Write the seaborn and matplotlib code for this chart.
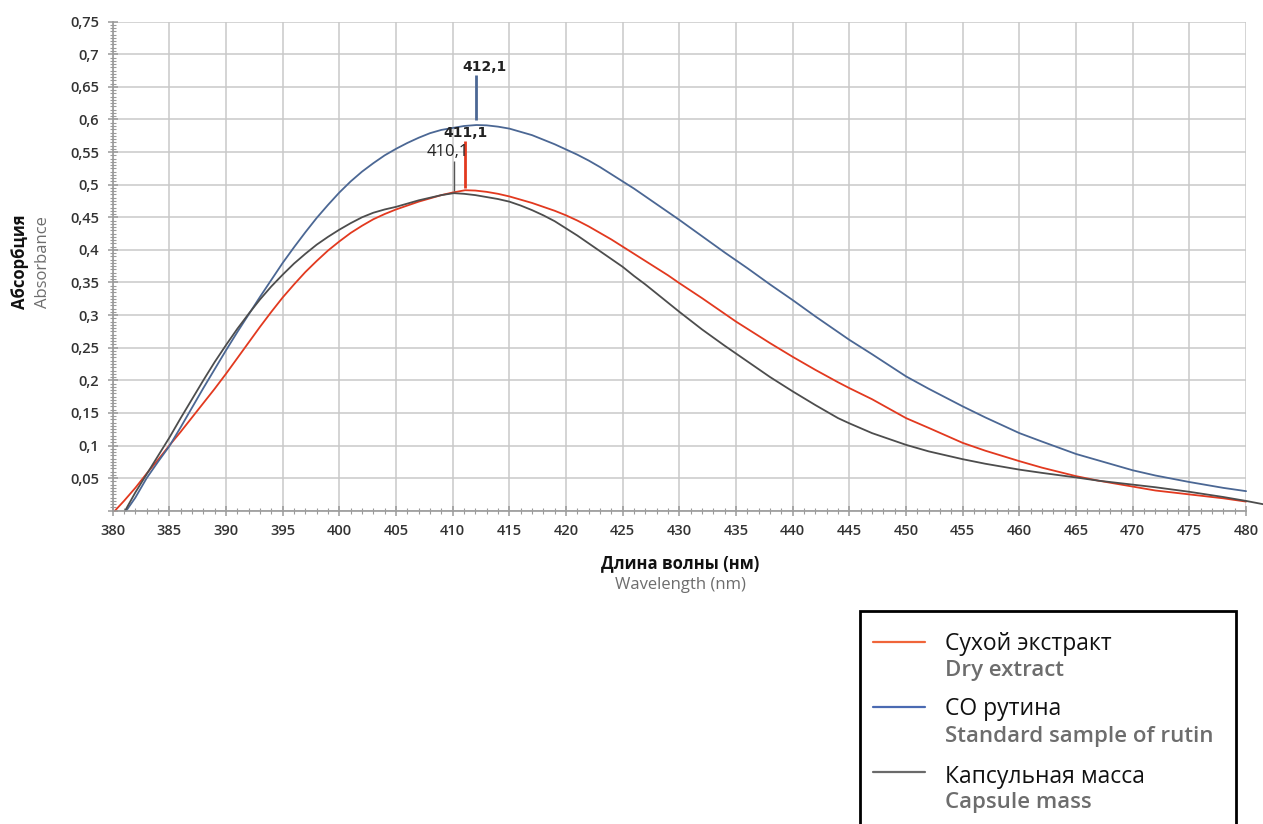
import numpy as np
import pandas as pd
import matplotlib
matplotlib.use("Agg")
import matplotlib.pyplot as plt
import seaborn as sns
from matplotlib.lines import Line2D
from matplotlib.patches import Rectangle
from matplotlib.ticker import MultipleLocator, FuncFormatter

# ============================================================================
# DATA
# ============================================================================

dry_wl = [380.2, 381, 382, 383, 384, 385, 386, 387, 388, 389, 390, 391, 392, 393, 394,
          395, 396, 397, 398, 399, 400, 401, 402, 403, 404, 405, 406, 407, 408, 409,
          410, 411.1, 412, 413, 414, 415, 416, 417, 418, 419, 420, 421, 422, 423, 424,
          425, 426, 427, 428, 429, 430, 432, 434, 435, 436, 438, 440, 442, 444, 445,
          447, 450, 452, 455, 457, 460, 462, 465, 467, 470, 472, 475, 478, 480]
dry_abs = [0.0, 0.015, 0.035, 0.057, 0.078, 0.1, 0.121, 0.143, 0.165, 0.187, 0.21,
           0.234, 0.258, 0.282, 0.305, 0.327, 0.347, 0.366, 0.383, 0.399, 0.413, 0.426,
           0.437, 0.447, 0.455, 0.462, 0.468, 0.474, 0.479, 0.484, 0.488, 0.4915, 0.491,
           0.489, 0.486, 0.482, 0.477, 0.472, 0.466, 0.46, 0.453, 0.445, 0.436, 0.426,
           0.416, 0.405, 0.394, 0.383, 0.372, 0.361, 0.349, 0.326, 0.302, 0.29, 0.279,
           0.257, 0.236, 0.216, 0.197, 0.188, 0.171, 0.142, 0.127, 0.104, 0.092, 0.076,
           0.066, 0.053, 0.046, 0.037, 0.031, 0.025, 0.019, 0.014]

rutin_wl = [381.2, 382, 383, 384, 385, 386, 387, 388, 389, 390, 391, 392, 393, 394,
            395, 396, 397, 398, 399, 400, 401, 402, 403, 404, 405, 406, 407, 408, 409,
            410, 411, 412.1, 413, 414, 415, 416, 417, 418, 419, 420, 421, 422, 423, 424,
            425, 426, 427, 428, 429, 430, 432, 434, 435, 436, 438, 440, 442, 444, 445,
            447, 450, 452, 455, 457, 460, 462, 465, 467, 470, 472, 475, 478, 480]
rutin_abs = [0.0, 0.02, 0.05, 0.075, 0.099, 0.128, 0.158, 0.188, 0.217, 0.246, 0.274,
             0.301, 0.328, 0.354, 0.38, 0.404, 0.427, 0.449, 0.469, 0.488, 0.505, 0.52,
             0.533, 0.545, 0.555, 0.564, 0.572, 0.579, 0.584, 0.587, 0.59, 0.5915, 0.591,
             0.589, 0.586, 0.581, 0.576, 0.569, 0.562, 0.554, 0.546, 0.537, 0.527, 0.516,
             0.505, 0.494, 0.482, 0.47, 0.458, 0.446, 0.421, 0.396, 0.384, 0.372, 0.347,
             0.323, 0.298, 0.274, 0.262, 0.24, 0.206, 0.187, 0.16, 0.143, 0.119, 0.106,
             0.087, 0.077, 0.062, 0.054, 0.044, 0.035, 0.03]

caps_wl = [381.1, 382, 383, 384, 385, 386, 387, 388, 389, 390, 391, 392, 393, 394,
           395, 396, 397, 398, 399, 400, 401, 402, 403, 404, 405, 406, 407, 408, 409,
           410.1, 411, 412, 413, 414, 415, 416, 417, 418, 419, 420, 421, 422, 423, 424,
           425, 426, 427, 428, 429, 430, 432, 434, 435, 436, 438, 440, 442, 444, 445,
           447, 450, 452, 455, 457, 460, 462, 465, 467, 470, 472, 475, 478, 480, 481.5]
caps_abs = [0.0, 0.028, 0.056, 0.084, 0.112, 0.142, 0.171, 0.2, 0.228, 0.254, 0.279,
            0.302, 0.324, 0.344, 0.362, 0.379, 0.394, 0.408, 0.42, 0.431, 0.441, 0.45,
            0.457, 0.462, 0.466, 0.471, 0.476, 0.48, 0.484, 0.487, 0.486, 0.484, 0.481,
            0.478, 0.474, 0.468, 0.461, 0.453, 0.444, 0.433, 0.422, 0.41, 0.398, 0.386,
            0.374, 0.36, 0.347, 0.333, 0.319, 0.305, 0.278, 0.253, 0.241, 0.229, 0.205,
            0.183, 0.162, 0.142, 0.134, 0.119, 0.101, 0.091, 0.079, 0.072, 0.063, 0.058,
            0.051, 0.046, 0.04, 0.036, 0.029, 0.021, 0.015, 0.01]

series_ru = ["Сухой экстракт", "СО рутина", "Капсульная масса"]
series_en = ["Dry extract", "Standard sample of rutin", "Capsule mass"]
line_colors = ["#e2391f", "#4b6794", "#4d4d4d"]
legend_colors = ["#f0653a", "#4a6ab2", "#6a6a6a"]

# peak markers: wavelength, marker bottom, marker top, label
peak_wl = [411.1, 412.1, 410.1]
peak_lo = [0.495, 0.599, 0.49]
peak_hi = [0.567, 0.668, 0.536]
peak_txt = ["411,1", "412,1", "410,1"]

df = pd.concat([
    pd.DataFrame({"wl": dry_wl, "abs": dry_abs, "s": series_ru[0]}),
    pd.DataFrame({"wl": rutin_wl, "abs": rutin_abs, "s": series_ru[1]}),
    pd.DataFrame({"wl": caps_wl, "abs": caps_abs, "s": series_ru[2]}),
])

# ============================================================================
# PLOT
# ============================================================================

sns.set_theme(style="whitegrid")
plt.rcParams["font.family"] = ["Open Sans", "DejaVu Sans"]

fig = plt.figure(figsize=(12.63, 8.24), dpi=100)
ax = fig.add_axes([0.0892, 0.3802, 0.8974, 0.5935])
ax.set_facecolor("white")

sns.lineplot(
    data=df, x="wl", y="abs", hue="s",
    palette=dict(zip(series_ru, line_colors)),
    estimator=None, sort=False, linewidth=1.3,
    legend=False, ax=ax
)
for ln in ax.lines:
    ln.set_clip_on(False)

# peak markers
ax.vlines(peak_wl, peak_lo, peak_hi, colors=[line_colors[0], line_colors[1], "#555555"],
          linewidths=[2.0, 2.0, 1.0])
ax.text(peak_wl[1] + 0.75, 0.680, peak_txt[1], ha="center", va="center",
        fontsize=10, fontweight="bold", color="#222222", family="DejaVu Sans")
ax.text(peak_wl[0], 0.5795, peak_txt[0], ha="center", va="center",
        fontsize=10, fontweight="bold", color="#222222", family="DejaVu Sans")
ax.text(peak_wl[2] - 0.5, 0.550, peak_txt[2], ha="center", va="center",
        fontsize=12, color="#222222")

ax.set_xlim(380, 480)
ax.set_ylim(0, 0.75)
ax.xaxis.set_major_locator(MultipleLocator(5))
ax.xaxis.set_minor_locator(MultipleLocator(1))
ax.yaxis.set_major_locator(MultipleLocator(0.05))
ax.yaxis.set_minor_locator(MultipleLocator(0.005))
ax.yaxis.set_major_formatter(FuncFormatter(
    lambda v, p: "" if v < 0.01 else f"{v:.2f}".rstrip("0").replace(".", ",")))

ax.grid(True, which="major", color="#c9c9c9", linewidth=1.1)
ax.grid(False, which="minor")
for side in ["top", "right"]:
    ax.spines[side].set_visible(False)
for side in ["left", "bottom"]:
    ax.spines[side].set_visible(True)
    ax.spines[side].set_color("#9a9a9a")
    ax.spines[side].set_linewidth(1.2)

ax.tick_params(which="major", direction="inout", length=7, width=1.1,
               color="#9a9a9a", labelsize=10.5, labelcolor="#333333", pad=6)
ax.tick_params(which="minor", direction="inout", length=4, width=0.8, color="#9a9a9a")
ax.tick_params(axis="both", which="both", bottom=True, left=True)
for lbl in ax.get_xticklabels() + ax.get_yticklabels():
    lbl.set_fontweight("semibold")
ax.set_xlabel("")
ax.set_ylabel("")

# axis titles, two languages
fig.text(0.5385, 1 - 563 / 824, "Длина волны (нм)", ha="center", va="center",
         fontsize=12, fontweight="bold", color="#111111")
fig.text(0.5385, 1 - 585 / 824, "Wavelength (nm)", ha="center", va="center",
         fontsize=12, color="#6d6d6d")
fig.text(20 / 1263, 1 - 262 / 824, "Абсорбция", ha="center", va="center",
         rotation=90, fontsize=12, fontweight="bold", color="#111111")
fig.text(43 / 1263, 1 - 262 / 824, "Absorbance", ha="center", va="center",
         rotation=90, fontsize=12, color="#6d6d6d")

# legend box
fig.add_artist(Rectangle((860 / 1263, -0.02), 376 / 1263, 0.02 + 1 - 611 / 824,
                         transform=fig.transFigure, fill=False,
                         edgecolor="black", linewidth=2))
sample_y = [642, 707, 772]
ru_base = [650, 715, 783]
en_base = [676, 742, 808]
for ru, en, col, sy, rb, eb in zip(series_ru, series_en, legend_colors,
                                   sample_y, ru_base, en_base):
    fig.add_artist(Line2D([873 / 1263, 925 / 1263], [1 - sy / 824, 1 - sy / 824],
                          transform=fig.transFigure, color=col, linewidth=1.6))
    fig.text(945 / 1263, 1 - rb / 824, ru, ha="left", va="baseline",
             fontsize=16.5, color="#111111")
    fig.text(945 / 1263, 1 - eb / 824, en, ha="left", va="baseline",
             fontsize=16, fontweight="semibold", color="#6d6d6d")

plt.savefig("out.png", dpi=100)
